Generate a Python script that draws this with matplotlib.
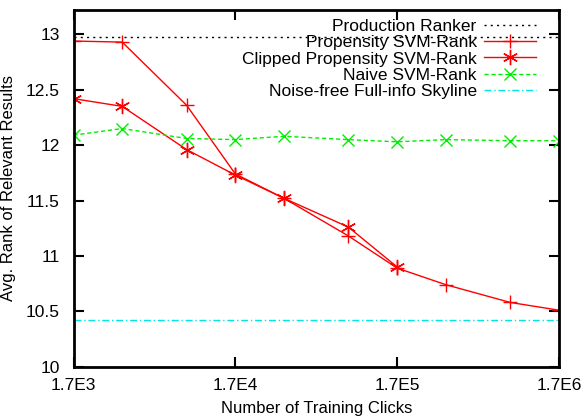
import numpy as np
import matplotlib.pyplot as plt

plt.rcParams['font.family'] = ['Liberation Sans', 'DejaVu Sans']

# training clicks
clicks = [1.7e3, 3.4e3, 8.5e3, 1.7e4, 3.4e4, 8.5e4, 1.7e5, 3.4e5, 8.5e5, 1.7e6]
clicks_clipped = clicks[:7]

production = 12.98
propensity = [12.94, 12.93, 12.36, 11.74, 11.52, 11.18, 10.89, 10.74, 10.58, 10.51]
clipped = [12.42, 12.35, 11.96, 11.73, 11.52, 11.26, 10.90]
naive = [12.09, 12.15, 12.06, 12.05, 12.08, 12.05, 12.03, 12.05, 12.04, 12.04]
skyline = 10.42

xticks = [1.7e3, 1.7e4, 1.7e5, 1.7e6]
xlabels = ['1.7E3', '1.7E4', '1.7E5', '1.7E6']
yticks = [10, 10.5, 11, 11.5, 12, 12.5, 13]
ylabels = ['10', '10.5', '11', '11.5', '12', '12.5', '13']

fig = plt.figure(figsize=(5.81, 4.18), dpi=100)
ax = fig.add_axes([73.5/581, 1-366.7/418, (559-73.5)/581, (366.7-10)/418])

ax.plot(clicks, [production]*len(clicks), ls=(0, (1.5, 3)), color='black', lw=1,
        label='Production Ranker')
ax.plot(clicks, propensity, '-', color='red', lw=1, marker='+', ms=10, mew=1,
        label='Propensity SVM-Rank')
ax.plot(clicks_clipped, clipped, '-', color='red', lw=1, marker=(6, 2, 0), ms=11, mew=1,
        label='Clipped Propensity SVM-Rank')
ax.plot(clicks, naive, '--', color='#00ee00', lw=1, marker='x', ms=9, mew=1,
        dashes=(3, 2), label='Naive SVM-Rank')
ax.plot(clicks, [skyline]*len(clicks), ls=(0, (5, 2, 1, 2)), color='#00e5e5', lw=1,
        label='Noise-free Full-info Skyline')

ax.set_xscale('log')
ax.set_xlim(1.7e3, 1.7e6)
ax.set_ylim(10, 13.22)
ax.set_xticks(xticks)
ax.set_xticklabels(xlabels)
ax.minorticks_off()
ax.set_yticks(yticks)
ax.set_yticklabels(ylabels)
ax.tick_params(direction='in', length=7, width=1.5, top=True, right=True, labelsize=12.5)
ax.tick_params(axis='x', pad=8)
ax.tick_params(axis='y', pad=10)
for s in ax.spines.values():
    s.set_linewidth(2)

ax.set_xlabel('Number of Training Clicks', fontsize=12, labelpad=6)
ax.set_ylabel('Avg. Rank of Relevant Results', fontsize=12, labelpad=7)

leg = ax.legend(loc='upper right', frameon=False, markerfirst=False, fontsize=12.5,
                handlelength=3.0, handletextpad=0.4, labelspacing=0.07,
                borderaxespad=0.1, bbox_to_anchor=(0.97, 1.0))
for t in leg.get_texts():
    t.set_ha('right')

fig.savefig('out.png', dpi=100)
